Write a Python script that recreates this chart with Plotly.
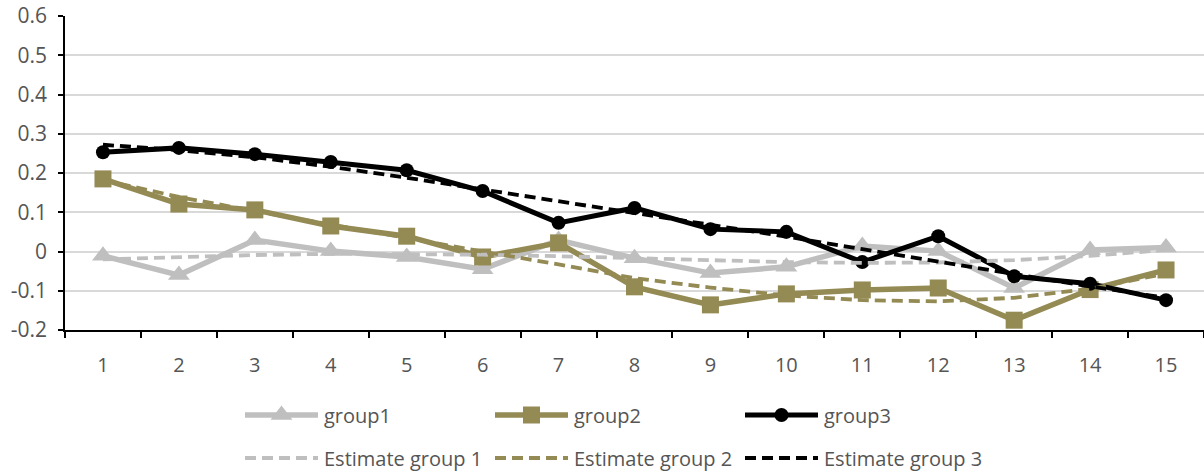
import plotly.graph_objects as go

# ---- data -------------------------------------------------------------
categories = [str(i) for i in range(1, 16)]

group1 = [-0.011, -0.060, 0.029, 0.001, -0.014, -0.045, 0.029, -0.017,
          -0.055, -0.039, 0.014, 0.001, -0.093, 0.004, 0.010]
group2 = [0.185, 0.121, 0.106, 0.065, 0.039, -0.014, 0.022, -0.090,
          -0.136, -0.108, -0.098, -0.093, -0.175, -0.097, -0.047]
group3 = [0.253, 0.264, 0.248, 0.228, 0.207, 0.154, 0.073, 0.111,
          0.057, 0.050, -0.027, 0.039, -0.063, -0.082, -0.124]

estimate1 = [-0.020, -0.014, -0.009, -0.006, -0.006, -0.008, -0.012, -0.017,
             -0.022, -0.027, -0.029, -0.028, -0.022, -0.011, 0.004]
estimate2 = [0.182, 0.139, 0.103, 0.068, 0.034, 0.000, -0.033, -0.068,
             -0.092, -0.112, -0.124, -0.127, -0.118, -0.095, -0.056]
estimate3 = [0.272, 0.258, 0.240, 0.216, 0.188, 0.158, 0.128, 0.099,
             0.068, 0.038, 0.006, -0.026, -0.057, -0.089, -0.118]

ytick_values = [-0.2, -0.1, 0, 0.1, 0.2, 0.3, 0.4, 0.5, 0.6]
ytick_labels = ["-0.2", "-0.1", "0", "0.1", "0.2", "0.3", "0.4", "0.5", "0.6"]

# ---- styling ----------------------------------------------------------
W, H = 1204, 474
FONT = "Open Sans"
TEXT = "#555555"
GRAY = "#BFBFBF"
OLIVE = "#948A54"
BLACK = "#000000"
DASH = "11px,6px"

series = [
    dict(name="group1", y=group1, color=GRAY, width=5.5, dash="solid",
         symbol="triangle-up", size=19),
    dict(name="group2", y=group2, color=OLIVE, width=5.5, dash="solid",
         symbol="square", size=17),
    dict(name="group3", y=group3, color=BLACK, width=5, dash="solid",
         symbol="circle", size=14),
    dict(name="Estimate group 1", y=estimate1, color=GRAY, width=3.8,
         dash=DASH, symbol=None, size=0),
    dict(name="Estimate group 2", y=estimate2, color=OLIVE, width=3.8,
         dash=DASH, symbol=None, size=0),
    dict(name="Estimate group 3", y=estimate3, color=BLACK, width=3.8,
         dash=DASH, symbol=None, size=0),
]

fig = go.Figure()

for s in series:
    if s["symbol"]:
        fig.add_trace(go.Scatter(
            x=categories, y=s["y"], name=s["name"], mode="lines+markers",
            line=dict(color=s["color"], width=s["width"]),
            marker=dict(symbol=s["symbol"], size=s["size"], color=s["color"],
                        opacity=1, line=dict(width=0)),
            showlegend=False, xaxis="x", yaxis="y"))
    else:
        fig.add_trace(go.Scatter(
            x=categories, y=s["y"], name=s["name"], mode="lines",
            line=dict(color=s["color"], width=s["width"], dash=s["dash"]),
            showlegend=False, xaxis="x", yaxis="y"))

# ---- legend drawn on a pixel-unit helper axis ---------------------------
legend_left = 245
legend_col_step = 250
legend_key_len = 73
legend_rows = [415, 458]
annotations = []
for i, s in enumerate(series):
    row, col = divmod(i, 3)
    x0 = legend_left + col * legend_col_step
    x1 = x0 + legend_key_len
    yy = legend_rows[row]
    if s["symbol"]:
        fig.add_trace(go.Scatter(
            x=[x0, (x0 + x1) / 2, x1], y=[yy, yy, yy], mode="lines+markers",
            line=dict(color=s["color"], width=s["width"]),
            marker=dict(symbol=s["symbol"], size=[0, s["size"], 0],
                        color=s["color"], opacity=1, line=dict(width=0)),
            showlegend=False, hoverinfo="skip", xaxis="x2", yaxis="y2"))
    else:
        fig.add_trace(go.Scatter(
            x=[x0, x1], y=[yy, yy], mode="lines",
            line=dict(color=s["color"], width=s["width"], dash=s["dash"]),
            showlegend=False, hoverinfo="skip", xaxis="x2", yaxis="y2"))
    annotations.append(dict(
        x=x1 + 4, y=yy, xref="x2", yref="y2", text=s["name"],
        showarrow=False, xanchor="left", yanchor="middle",
        font=dict(family=FONT, size=20, color=TEXT)))

plot_left, plot_top, plot_bottom = 65, 16, 330

fig.update_layout(
    width=W, height=H,
    margin=dict(l=0, r=0, t=0, b=0, pad=0),
    paper_bgcolor="white", plot_bgcolor="rgba(0,0,0,0)",
    font=dict(family=FONT, size=20, color=TEXT),
    annotations=annotations,
    xaxis=dict(
        type="category", domain=[plot_left / W, 1],
        range=[-0.5, 14.5], tickson="boundaries",
        ticks="outside", ticklen=6, tickwidth=1.5, tickcolor=BLACK,
        showline=True, linecolor=BLACK, linewidth=1.5,
        showgrid=False, zeroline=False, automargin=False,
        tickfont=dict(family=FONT, size=20, color=TEXT),
        ticklabelstandoff=16, anchor="y", fixedrange=True),
    yaxis=dict(
        domain=[(H - plot_bottom) / H, (H - plot_top) / H],
        range=[-0.2, 0.6], tickvals=ytick_values, ticktext=ytick_labels,
        ticks="outside", ticklen=5, tickwidth=1.5, tickcolor=BLACK,
        showline=True, linecolor=BLACK, linewidth=1.5,
        showgrid=True, gridcolor="#D9D9D9", gridwidth=1.5, zeroline=False,
        automargin=False,
        tickfont=dict(family=FONT, size=21, color=TEXT),
        ticklabelstandoff=7, anchor="x", fixedrange=True),
    xaxis2=dict(domain=[0, 1], range=[0, W], visible=False,
                automargin=False, anchor="y2", fixedrange=True),
    yaxis2=dict(domain=[0, 1], range=[H, 0], visible=False,
                automargin=False, anchor="x2", fixedrange=True),
)

fig.write_html("out.html")
